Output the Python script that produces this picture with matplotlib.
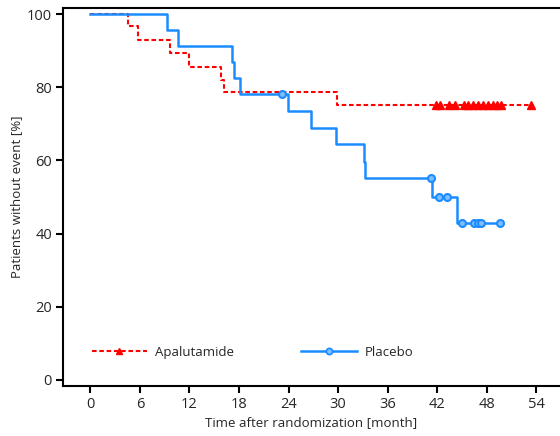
import numpy as np
import matplotlib
matplotlib.use('Agg')
import matplotlib.pyplot as plt

plt.rcParams['font.family'] = ['Open Sans', 'DejaVu Sans']

# Kaplan-Meier Stufen (Zeit in Monaten, Anteil in %)
apa_t = [0, 4.6, 5.8, 9.6, 12.0, 15.8, 16.2, 29.9, 53.3]
apa_s = [100, 96.7, 92.9, 89.3, 85.6, 82.1, 78.7, 75.1, 75.1]
apa_cens = [41.8, 42.4, 43.4, 44.1, 45.2, 45.7, 46.3, 46.9, 47.5, 48.1,
            48.7, 49.3, 49.7, 53.3]

pla_t = [0, 9.3, 10.6, 17.2, 17.4, 18.1, 23.9, 26.7, 29.7, 33.1, 33.3,
         41.4, 44.4, 49.6]
pla_s = [100, 95.8, 91.3, 87.0, 82.5, 78.3, 73.6, 69.0, 64.5, 59.6, 55.3,
         50.1, 43.0, 43.0]
pla_cens = [23.2, 41.2, 42.2, 43.2, 45.0, 46.5, 46.9, 47.3, 49.6]

xticks = [0, 6, 12, 18, 24, 30, 36, 42, 48, 54]
yticks = [0, 20, 40, 60, 80, 100]

red = '#ff0000'
blue = '#1a8cff'
txt = '#262626'


def _level(t, s, x):
    # Wert der Stufenfunktion an Stelle x
    i = np.searchsorted(t, x, side='right') - 1
    return np.asarray(s)[i]


fig = plt.figure(figsize=(5.6, 4.36), dpi=100)
ax = fig.add_axes([63 / 560, 1 - 386 / 436, 1 - 63 / 560 - 0.001, 378 / 436])

ax.step(apa_t, apa_s, where='post', color=red, lw=1.5, dashes=(2.2, 1.3))
ax.plot(apa_cens, _level(apa_t, apa_s, apa_cens), ls='none', marker='^',
        ms=5.5, color=red, mec=red)

ax.step(pla_t, pla_s, where='post', color=blue, lw=1.8)
ax.plot(pla_cens, _level(pla_t, pla_s, pla_cens), ls='none', marker='o',
        ms=5, mfc='#7fbfff', mec=blue, mew=1.5)

# Legende
h1, = ax.plot([], [], color=red, lw=1.5, dashes=(2.2, 1.3), marker='^',
              ms=5, mec=red)
h2, = ax.plot([], [], color=blue, lw=1.8, marker='o', ms=4.5,
              mfc='#7fbfff', mec=blue, mew=1.2)
leg = ax.legend([h1, h2], ['Apalutamide', 'Placebo'], ncol=2, frameon=False,
                loc='lower left', bbox_to_anchor=(0.034, 0.04),
                handlelength=4.2, columnspacing=5.1, fontsize=9.5,
                handletextpad=0.6)
for t in leg.get_texts():
    t.set_color(txt)

ax.set_xlim(-3.3, 56.8)
ax.set_ylim(-1.7, 101.7)
ax.set_xticks(xticks)
ax.set_yticks(yticks)
ax.tick_params(direction='out', length=5, width=1.5, labelsize=10.5, pad=3,
               labelcolor=txt)
for side in ['left', 'bottom', 'top']:
    ax.spines[side].set_linewidth(1.5)
ax.spines['right'].set_visible(False)

ax.set_xlabel('Time after randomization [month]', fontsize=9.5, labelpad=3,
              color=txt)
ax.set_ylabel('Patients without event [%]', fontsize=9.5, labelpad=3,
              color=txt)

fig.savefig('out.png', dpi=100)
